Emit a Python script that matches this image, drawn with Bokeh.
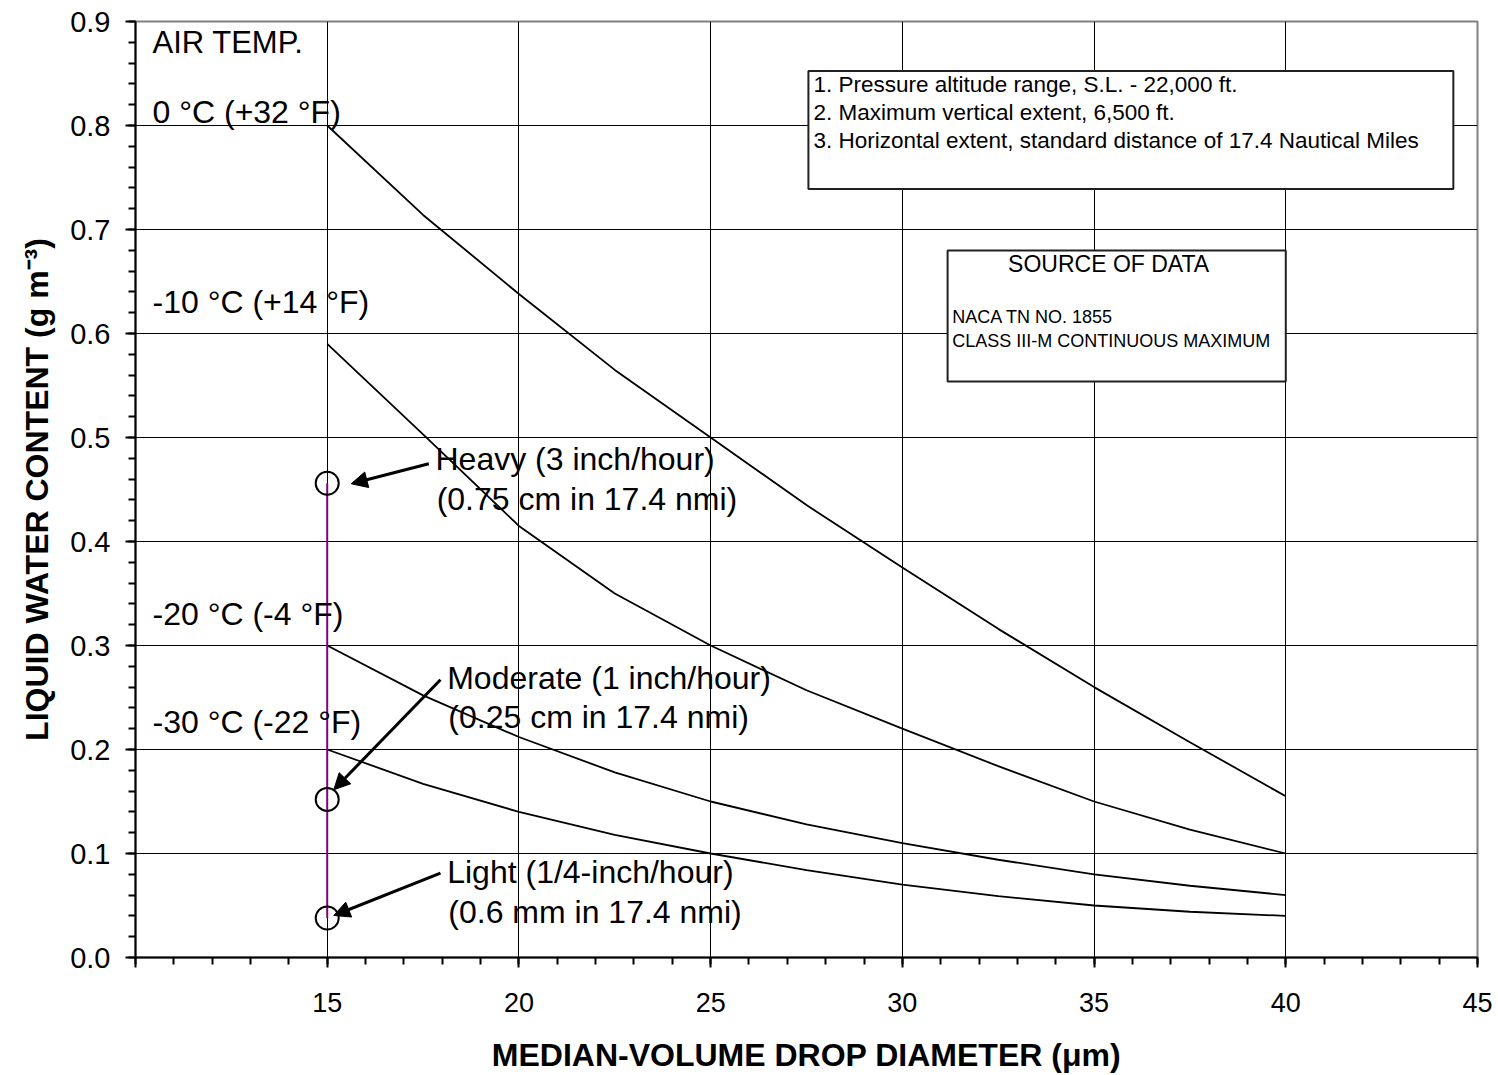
from bokeh.plotting import figure
from bokeh.models import FixedTicker, NumeralTickFormatter, Label, Arrow, NormalHead
from bokeh.embed import file_html
from bokeh.resources import INLINE

# ---------------- data ----------------
x_diam = [15, 17.5, 20, 22.5, 25, 27.5, 30, 32.5, 35, 37.5, 40]
lwc_0C = [0.800, 0.714, 0.638, 0.565, 0.500, 0.435, 0.375, 0.316, 0.260, 0.207, 0.155]
lwc_m10C = [0.590, 0.503, 0.415, 0.350, 0.300, 0.257, 0.220, 0.184, 0.150, 0.123, 0.100]
lwc_m20C = [0.300, 0.252, 0.212, 0.178, 0.150, 0.128, 0.110, 0.094, 0.080, 0.069, 0.060]
lwc_m30C = [0.200, 0.167, 0.140, 0.118, 0.100, 0.084, 0.070, 0.059, 0.050, 0.044, 0.040]

temp_labels = ["0 °C (+32 °F)", "-10 °C (+14 °F)", "-20 °C (-4 °F)", "-30 °C (-22 °F)"]

rain_x = [15, 15, 15]
rain_lwc = [0.456, 0.152, 0.038]
rain_line1 = ["Heavy (3 inch/hour)", "Moderate (1 inch/hour)", "Light (1/4-inch/hour)"]
rain_line2 = ["(0.75 cm in 17.4 nmi)", "(0.25 cm in 17.4 nmi)", "(0.6 mm in 17.4 nmi)"]

notes = ["1. Pressure altitude range, S.L. - 22,000 ft.",
         "2. Maximum vertical extent, 6,500 ft.",
         "3. Horizontal extent, standard distance of 17.4 Nautical Miles"]
source_title = "SOURCE OF DATA"
source_lines = ["NACA TN NO. 1855", "CLASS III-M CONTINUOUS MAXIMUM"]

x_major = [10, 15, 20, 25, 30, 35, 40, 45]
x_minor = list(range(10, 46))
y_major = [0.0, 0.1, 0.2, 0.3, 0.4, 0.5, 0.6, 0.7, 0.8, 0.9]
y_minor = [round(0.02 * i, 2) for i in range(46)]

FONT = "Liberation Sans"
PX_PER_Y = 1040.0

p = figure(width=1498, height=1075, x_range=(10, 45), y_range=(0, 0.9),
           output_backend="svg", toolbar_location=None,
           min_border_left=135, min_border_right=21, min_border_top=21, min_border_bottom=118)
p.background_fill_color = "white"
p.border_fill_color = "white"
p.outline_line_color = "#808080"
p.outline_line_width = 2

# axes
p.xaxis.ticker = FixedTicker(ticks=x_major, minor_ticks=x_minor)
p.xaxis.major_label_overrides = {10: ""}
p.yaxis.ticker = FixedTicker(ticks=y_major, minor_ticks=y_minor)
p.yaxis.formatter = NumeralTickFormatter(format="0.0")
for ax in (p.xaxis, p.yaxis):
    ax.axis_line_color = "black"
    ax.axis_line_width = 2
    ax.major_tick_line_color = "black"
    ax.major_tick_line_width = 2
    ax.minor_tick_line_color = "black"
    ax.minor_tick_line_width = 2
    ax.major_tick_in = 0
    ax.major_tick_out = 10
    ax.minor_tick_in = 0
    ax.minor_tick_out = 7
    ax.major_label_text_font = FONT
    ax.major_label_text_color = "black"
    ax.axis_label_text_font = FONT
    ax.axis_label_text_font_style = "bold"
    ax.axis_label_text_font_size = "32px"
    ax.axis_label_text_color = "black"
p.xaxis.major_label_text_font_size = "27px"
p.yaxis.major_label_text_font_size = "29px"
p.xaxis.major_label_standoff = 25
p.yaxis.major_label_standoff = 15
p.xaxis.axis_label = "MEDIAN-VOLUME DROP DIAMETER (μm)"
p.yaxis.axis_label = "LIQUID WATER CONTENT (g m⁻³)"
p.xaxis.axis_label_standoff = 22
p.yaxis.axis_label_standoff = 12

# grid
p.xgrid.ticker = FixedTicker(ticks=[15, 20, 25, 30, 35, 40])
p.ygrid.ticker = FixedTicker(ticks=[0.1, 0.2, 0.3, 0.4, 0.5, 0.6, 0.7, 0.8])
p.xgrid.grid_line_color = "black"
p.ygrid.grid_line_color = "black"
p.xgrid.grid_line_width = 1
p.ygrid.grid_line_width = 1

# boxes (white, covering the grid)
p.quad(left=[27.55], right=[44.37], top=[0.8524], bottom=[0.7389],
       fill_color="white", line_color="#202020", line_width=2)
p.quad(left=[31.18], right=[40.0], top=[0.6798], bottom=[0.5538],
       fill_color="white", line_color="#202020", line_width=2)

# curves
for ys in (lwc_0C, lwc_m10C, lwc_m20C, lwc_m30C):
    p.line(x_diam, ys, line_color="black", line_width=1.8)

# rain-rate marker line and circles
p.line([rain_x[0], rain_x[0]], [min(rain_lwc), max(rain_lwc)], line_color="#800080", line_width=2)
p.scatter(rain_x, rain_lwc, marker="circle", size=23, fill_color=None,
          line_color="black", line_width=2)

def lab(x, y, text, size, align="left"):
    # y is the visual baseline; compensate the renderer's baseline shift
    yy = y + 0.36 * size / PX_PER_Y
    p.add_layout(Label(x=x, y=yy, text=text, text_font=FONT, text_font_size=f"{size}px",
                       text_align=align, text_baseline="alphabetic", text_color="black"))

# temperature labels
lab(10.443, 0.869, "AIR TEMP.", 31)
temp_base = [0.8016, 0.619, 0.319, 0.2154]
for t, yb in zip(temp_labels, temp_base):
    lab(10.443, yb, t, 32)

# rain labels
rain_lx = [17.824, 18.129, 18.129]
rain_b1 = [0.468, 0.2574, 0.0709]
rain_b2 = [0.4298, 0.2199, 0.0324]
for i in range(3):
    lab(rain_lx[i], rain_b1[i], rain_line1[i], 32)
    lab(rain_lx[i] + 0.03, rain_b2[i], rain_line2[i], 32)

# arrows
arrow_tail = [(17.650, 0.4747), (17.954, 0.2670), (17.954, 0.0811)]
arrow_tip = [(15.626, 0.4555), (15.172, 0.1613), (15.172, 0.0404)]
for (xs, ys), (xe, ye) in zip(arrow_tail, arrow_tip):
    p.add_layout(Arrow(end=NormalHead(size=16, fill_color="black", line_color="black", line_width=1),
                       x_start=xs, y_start=ys, x_end=xe, y_end=ye,
                       line_color="black", line_width=3))

# notes box text
note_base = [0.8320, 0.8051, 0.7782]
for t, yb in zip(notes, note_base):
    lab(27.68, yb, t, 22.5)

# source box text
lab(35.38, 0.6584, source_title, 23, align="center")
src_base = [0.6093, 0.5868]
for t, yb in zip(source_lines, src_base):
    lab(31.30, yb, t, 18)

open("out.html", "w").write(file_html(p, INLINE))
